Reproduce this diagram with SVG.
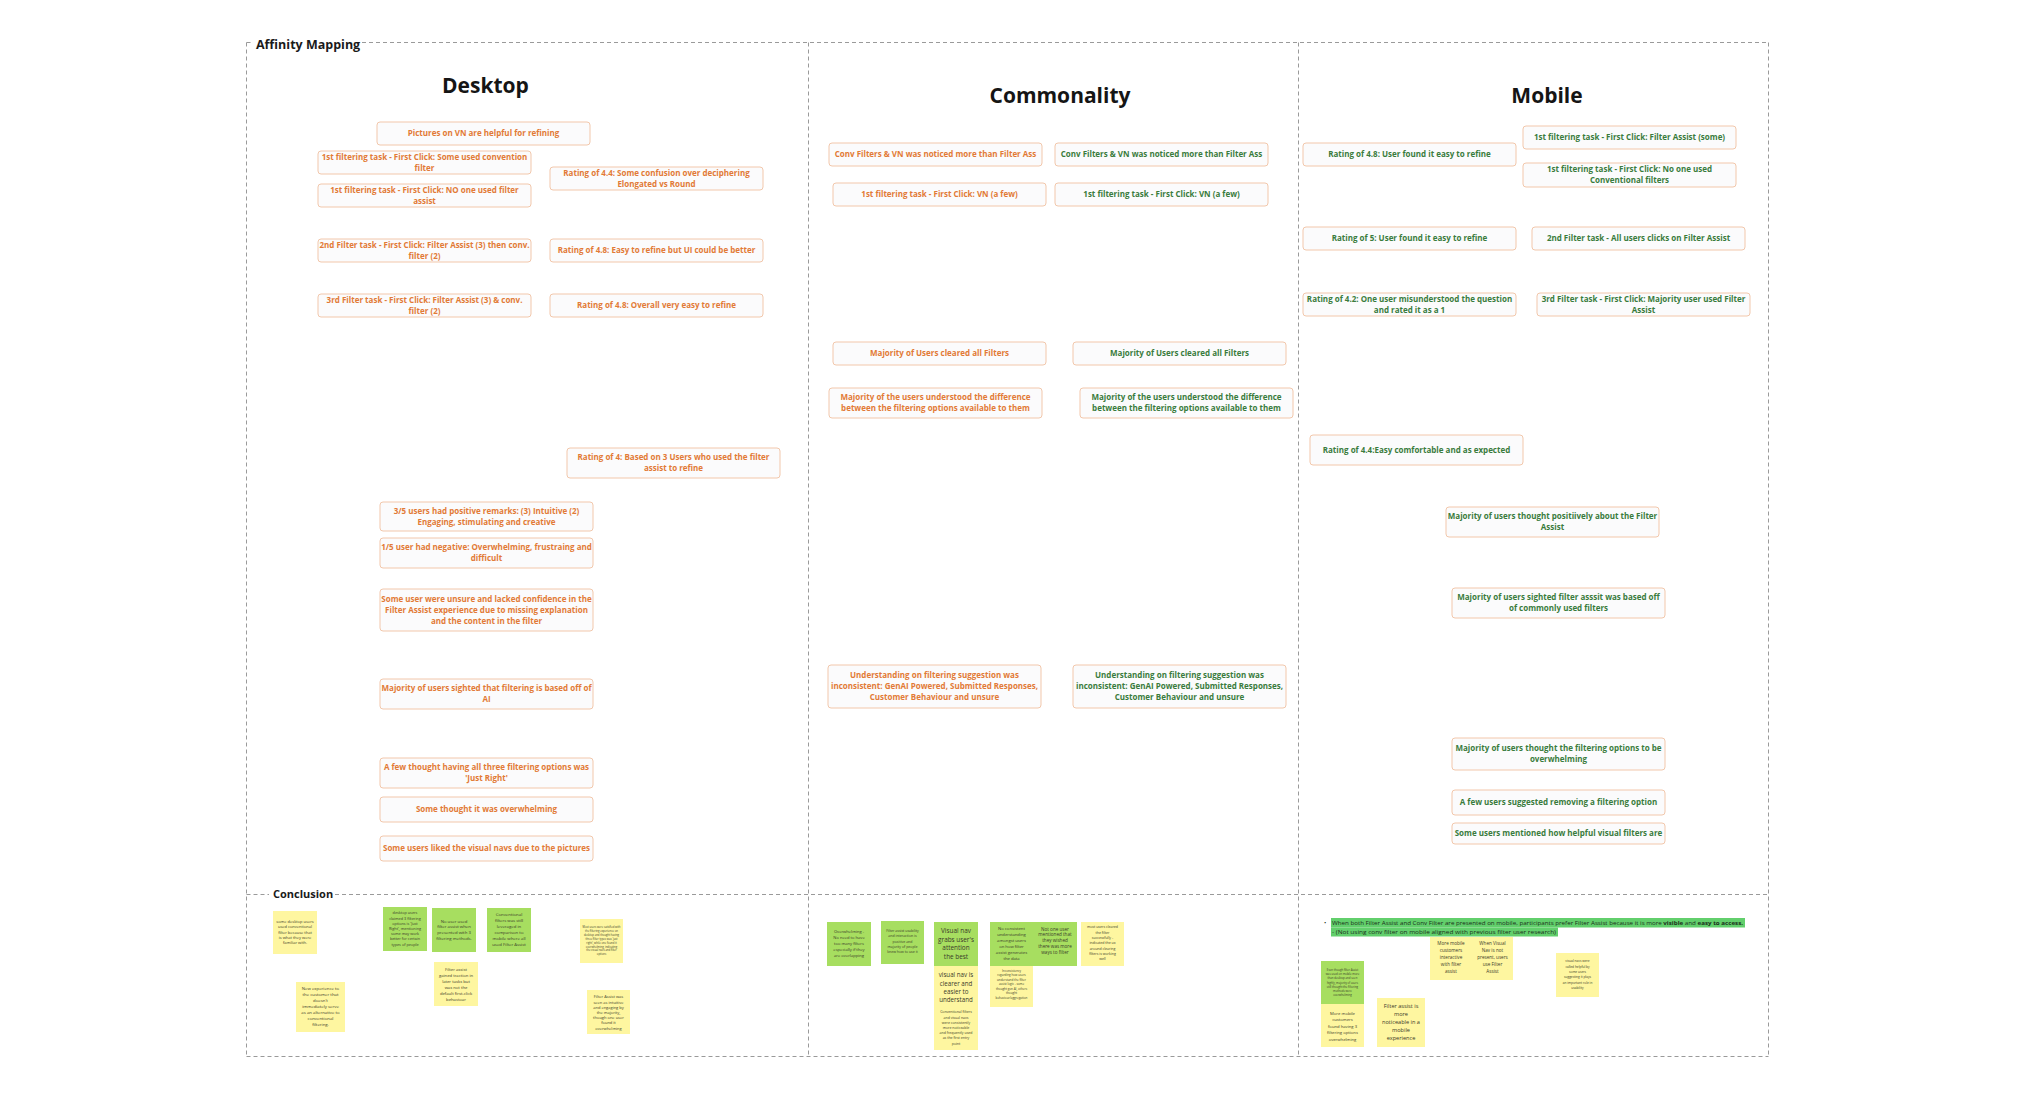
<svg xmlns="http://www.w3.org/2000/svg" width="2017" height="1098" viewBox="0 0 2017 1098">
<style>
.bg{fill:#ffffff}
.dash{stroke:#9a9a9a;stroke-width:1;stroke-dasharray:4 3;fill:none}
.bx{fill:#fbfbfc;stroke:#f2c7ab;stroke-width:1}
.to,.tg{font-family:"Open Sans","Noto Sans",sans-serif;font-weight:700;font-size:8px;text-anchor:middle}
.to{fill:#e27a36}
.tg{fill:#3a7b3c}
.h{font-family:"Open Sans","Noto Sans",sans-serif;font-weight:700;font-size:21px;fill:#151515;text-anchor:middle}
.lbl{font-family:"Open Sans","Noto Sans",sans-serif;font-weight:700;fill:#1a1a1a}
.sy{fill:#fef6a0}
.sg{fill:#a7de60}
.st{font-family:"Open Sans","Noto Sans",sans-serif;fill:#3a3a2a;text-anchor:middle}
.hl{fill:#62cf6c}
.bt{font-family:"Open Sans","Noto Sans",sans-serif;font-size:6px;fill:#1b2e1b}
</style>
<rect class="bg" x="0" y="0" width="2017" height="1098"/>

<g id="frame">
  <line class="dash" x1="246.5" y1="42.5" x2="251" y2="42.5"/>
  <line class="dash" x1="362" y1="42.5" x2="1768.5" y2="42.5"/>
  <line class="dash" x1="246.5" y1="42.5" x2="246.5" y2="1056.5"/>
  <line class="dash" x1="1768.5" y1="42.5" x2="1768.5" y2="1056.5"/>
  <line class="dash" x1="246.5" y1="1056.5" x2="1768.5" y2="1056.5"/>
  <line class="dash" x1="808.5" y1="42.5" x2="808.5" y2="1056.5"/>
  <line class="dash" x1="1298.5" y1="42.5" x2="1298.5" y2="1056.5"/>
  <line class="dash" x1="246.5" y1="894.5" x2="269" y2="894.5"/>
  <line class="dash" x1="335" y1="894.5" x2="1768.5" y2="894.5"/>
  <text class="lbl" x="256" y="48.5" font-size="12.5">Affinity Mapping</text>
  <text class="lbl" x="273" y="897.5" font-size="11">Conclusion</text>
</g>

<g id="headers">
  <text class="h" x="485.5" y="93">Desktop</text>
  <text class="h" x="1060" y="103">Commonality</text>
  <text class="h" x="1547" y="103">Mobile</text>
</g>

<!-- Desktop -->
<g id="d1"><rect class="bx" x="377" y="122" width="213" height="23" rx="3"/><text class="to" x="483.5" y="136.4">Pictures on VN are helpful for refining</text></g>
<g id="d2"><rect class="bx" x="318" y="151" width="213" height="23" rx="3"/><text class="to" x="424.5" y="159.9">1st filtering task - First Click: Some used convention</text><text class="to" x="424.5" y="170.9">filter</text></g>
<g id="d3"><rect class="bx" x="318" y="184" width="213" height="23" rx="3"/><text class="to" x="424.5" y="192.9">1st filtering task - First Click: NO one used filter</text><text class="to" x="424.5" y="203.9">assist</text></g>
<g id="d4"><rect class="bx" x="550" y="167" width="213" height="23" rx="3"/><text class="to" x="656.5" y="175.9">Rating of 4.4: Some confusion over deciphering</text><text class="to" x="656.5" y="186.9">Elongated vs Round</text></g>
<g id="d5"><rect class="bx" x="318" y="239" width="213" height="23" rx="3"/><text class="to" x="424.5" y="247.9">2nd Filter task - First Click: Filter Assist (3) then conv.</text><text class="to" x="424.5" y="258.9">filter (2)</text></g>
<g id="d6"><rect class="bx" x="550" y="239" width="213" height="23" rx="3"/><text class="to" x="656.5" y="253.4">Rating of 4.8: Easy to refine but UI could be better</text></g>
<g id="d7"><rect class="bx" x="318" y="294" width="213" height="23" rx="3"/><text class="to" x="424.5" y="302.9">3rd Filter task - First Click: Filter Assist (3) &amp; conv.</text><text class="to" x="424.5" y="313.9">filter (2)</text></g>
<g id="d8"><rect class="bx" x="550" y="294" width="213" height="23" rx="3"/><text class="to" x="656.5" y="308.4">Rating of 4.8: Overall very easy to refine</text></g>
<g id="d9"><rect class="bx" x="567" y="448" width="213" height="30" rx="3"/><text class="to" x="673.5" y="460.4">Rating of 4: Based on 3 Users who used the filter</text><text class="to" x="673.5" y="471.4">assist to refine</text></g>
<g id="d10"><rect class="bx" x="380" y="502" width="213" height="29" rx="3"/><text class="to" x="486.5" y="513.9">3/5 users had positive remarks: (3) Intuitive (2)</text><text class="to" x="486.5" y="524.9">Engaging, stimulating and creative</text></g>
<g id="d11"><rect class="bx" x="380" y="538" width="213" height="30" rx="3"/><text class="to" x="486.5" y="550.4">1/5 user had negative: Overwhelming, frustraing and</text><text class="to" x="486.5" y="561.4">difficult</text></g>
<g id="d12"><rect class="bx" x="380" y="589" width="213" height="42" rx="3"/><text class="to" x="486.5" y="601.9">Some user were unsure and lacked confidence in the</text><text class="to" x="486.5" y="612.9">Filter Assist experience due to missing explanation</text><text class="to" x="486.5" y="623.9">and the content in the filter</text></g>
<g id="d13"><rect class="bx" x="380" y="679" width="213" height="30" rx="3"/><text class="to" x="486.5" y="691.4">Majority of users sighted that filtering is based off of</text><text class="to" x="486.5" y="702.4">AI</text></g>
<g id="d14"><rect class="bx" x="380" y="758" width="213" height="30" rx="3"/><text class="to" x="486.5" y="770.4">A few thought having all three filtering options was</text><text class="to" x="486.5" y="781.4">'Just Right'</text></g>
<g id="d15"><rect class="bx" x="380" y="797" width="213" height="25" rx="3"/><text class="to" x="486.5" y="812.4">Some thought it was overwhelming</text></g>
<g id="d16"><rect class="bx" x="380" y="836" width="213" height="25" rx="3"/><text class="to" x="486.5" y="851.4">Some users liked the visual navs due to the pictures</text></g>

<!-- Commonality -->
<g id="c1o"><rect class="bx" x="829" y="143" width="213" height="23" rx="3"/><text class="to" x="935.5" y="157.4">Conv Filters &amp; VN was noticed more than Filter Ass</text></g>
<g id="c1g"><rect class="bx" x="1055" y="143" width="213" height="23" rx="3"/><text class="tg" x="1161.5" y="157.4">Conv Filters &amp; VN was noticed more than Filter Ass</text></g>
<g id="c2o"><rect class="bx" x="833" y="183" width="213" height="23" rx="3"/><text class="to" x="939.5" y="197.4">1st filtering task - First Click: VN (a few)</text></g>
<g id="c2g"><rect class="bx" x="1055" y="183" width="213" height="23" rx="3"/><text class="tg" x="1161.5" y="197.4">1st filtering task - First Click: VN (a few)</text></g>
<g id="c3o"><rect class="bx" x="833" y="342" width="213" height="23" rx="3"/><text class="to" x="939.5" y="356.4">Majority of Users cleared all Filters</text></g>
<g id="c3g"><rect class="bx" x="1073" y="342" width="213" height="23" rx="3"/><text class="tg" x="1179.5" y="356.4">Majority of Users cleared all Filters</text></g>
<g id="c4o"><rect class="bx" x="829" y="388" width="213" height="30" rx="3"/><text class="to" x="935.5" y="400.4">Majority of the users understood the difference</text><text class="to" x="935.5" y="411.4">between the filtering options available to them</text></g>
<g id="c4g"><rect class="bx" x="1080" y="388" width="213" height="30" rx="3"/><text class="tg" x="1186.5" y="400.4">Majority of the users understood the difference</text><text class="tg" x="1186.5" y="411.4">between the filtering options available to them</text></g>
<g id="c5o"><rect class="bx" x="828" y="665" width="213" height="43" rx="3"/><text class="to" x="934.5" y="678.4">Understanding on filtering suggestion was</text><text class="to" x="934.5" y="689.4">inconsistent: GenAI Powered, Submitted Responses,</text><text class="to" x="934.5" y="700.4">Customer Behaviour and unsure</text></g>
<g id="c5g"><rect class="bx" x="1073" y="665" width="213" height="43" rx="3"/><text class="tg" x="1179.5" y="678.4">Understanding on filtering suggestion was</text><text class="tg" x="1179.5" y="689.4">inconsistent: GenAI Powered, Submitted Responses,</text><text class="tg" x="1179.5" y="700.4">Customer Behaviour and unsure</text></g>

<!-- Mobile -->
<g id="m1"><rect class="bx" x="1523" y="126" width="213" height="23" rx="3"/><text class="tg" x="1629.5" y="140.4">1st filtering task - First Click: Filter Assist (some)</text></g>
<g id="m2"><rect class="bx" x="1303" y="143" width="213" height="23" rx="3"/><text class="tg" x="1409.5" y="157.4">Rating of 4.8: User found it easy to refine</text></g>
<g id="m3"><rect class="bx" x="1523" y="163" width="213" height="24" rx="3"/><text class="tg" x="1629.5" y="172.4">1st filtering task - First Click: No one used</text><text class="tg" x="1629.5" y="183.4">Conventional filters</text></g>
<g id="m4"><rect class="bx" x="1303" y="227" width="213" height="23" rx="3"/><text class="tg" x="1409.5" y="241.4">Rating of 5: User found it easy to refine</text></g>
<g id="m5"><rect class="bx" x="1532" y="227" width="213" height="23" rx="3"/><text class="tg" x="1638.5" y="241.4">2nd Filter task - All users clicks on Filter Assist</text></g>
<g id="m6"><rect class="bx" x="1303" y="293" width="213" height="23" rx="3"/><text class="tg" x="1409.5" y="301.9">Rating of 4.2: One user misunderstood the question</text><text class="tg" x="1409.5" y="312.9">and rated it as a 1</text></g>
<g id="m7"><rect class="bx" x="1537" y="293" width="213" height="23" rx="3"/><text class="tg" x="1643.5" y="301.9">3rd Filter task - First Click: Majority user used Filter</text><text class="tg" x="1643.5" y="312.9">Assist</text></g>
<g id="m8"><rect class="bx" x="1310" y="435" width="213" height="30" rx="3"/><text class="tg" x="1416.5" y="452.9">Rating of 4.4:Easy comfortable and as expected</text></g>
<g id="m9"><rect class="bx" x="1446" y="507" width="213" height="30" rx="3"/><text class="tg" x="1552.5" y="519.4">Majority of users thought positiively about the Filter</text><text class="tg" x="1552.5" y="530.4">Assist</text></g>
<g id="m10"><rect class="bx" x="1452" y="588" width="213" height="30" rx="3"/><text class="tg" x="1558.5" y="600.4">Majority of users sighted filter asssit was based off</text><text class="tg" x="1558.5" y="611.4">of commonly used filters</text></g>
<g id="m11"><rect class="bx" x="1452" y="738" width="213" height="32" rx="3"/><text class="tg" x="1558.5" y="751.4">Majority of users thought the filtering options to be</text><text class="tg" x="1558.5" y="762.4">overwhelming</text></g>
<g id="m12"><rect class="bx" x="1452" y="790" width="213" height="25" rx="3"/><text class="tg" x="1558.5" y="805.4">A few users suggested removing a filtering option</text></g>
<g id="m13"><rect class="bx" x="1452" y="823" width="213" height="21" rx="3"/><text class="tg" x="1558.5" y="836.4">Some users mentioned how helpful visual filters are</text></g>

<!-- Conclusion stickies: Desktop -->
<g id="s1"><rect class="sy" x="273" y="911" width="44" height="43"/><text class="st" font-size="4"><tspan x="295" y="923">some desktop users</tspan><tspan x="295" dy="5.3">used conventional</tspan><tspan x="295" dy="5.3">filter because that</tspan><tspan x="295" dy="5.3">is what they were</tspan><tspan x="295" dy="5.3">familiar with.</tspan></text></g>
<g id="s2"><rect class="sy" x="296" y="982" width="49" height="50"/><text class="st" font-size="4.3"><tspan x="320.5" y="989.6">New experience to</tspan><tspan x="320.5" dy="6.1">the customer that</tspan><tspan x="320.5" dy="6.1">doesn't</tspan><tspan x="320.5" dy="6.1">immediately serve</tspan><tspan x="320.5" dy="6.1">as an alternative to</tspan><tspan x="320.5" dy="6.1">conventional</tspan><tspan x="320.5" dy="6.1">filtering.</tspan></text></g>
<g id="g1"><rect class="sg" x="383" y="907" width="44" height="44"/><text class="st" font-size="3.8"><tspan x="405" y="914.4">desktop users</tspan><tspan x="405" dy="5.2">claimed 3 filtering</tspan><tspan x="405" dy="5.2">options is 'Just</tspan><tspan x="405" dy="5.2">Right', mentioning</tspan><tspan x="405" dy="5.2">some may work</tspan><tspan x="405" dy="5.2">better for certain</tspan><tspan x="405" dy="5.2">types of people</tspan></text></g>
<g id="g2"><rect class="sg" x="432" y="908" width="44" height="44"/><text class="st" font-size="4.3"><tspan x="454" y="922.5">No user used</tspan><tspan x="454" dy="5.7">filter assist when</tspan><tspan x="454" dy="5.7">presented with 3</tspan><tspan x="454" dy="5.7">filtering methods.</tspan></text></g>
<g id="g3"><rect class="sg" x="487" y="908" width="44" height="44"/><text class="st" font-size="4.3"><tspan x="509" y="915.5">Conventional</tspan><tspan x="509" dy="6">filters was still</tspan><tspan x="509" dy="6">leveraged in</tspan><tspan x="509" dy="6">comparison to</tspan><tspan x="509" dy="6">mobile where all</tspan><tspan x="509" dy="6">used Filter Assist</tspan></text></g>
<g id="s3"><rect class="sy" x="434" y="962" width="44" height="44"/><text class="st" font-size="4.2"><tspan x="456" y="970.5">Filter assist</tspan><tspan x="456" dy="6">gained traction in</tspan><tspan x="456" dy="6">later tasks but</tspan><tspan x="456" dy="6">was not the</tspan><tspan x="456" dy="6">default first-click</tspan><tspan x="456" dy="6">behaviour</tspan></text></g>
<g id="s4"><rect class="sy" x="580" y="919" width="43" height="44"/><text class="st" font-size="2.7"><tspan x="601.5" y="928">Most users were satisfied with</tspan><tspan x="601.5" dy="3.9">the filtering experience on</tspan><tspan x="601.5" dy="3.9">desktop and thought having</tspan><tspan x="601.5" dy="3.9">three filter types was 'just</tspan><tspan x="601.5" dy="3.9">right', while one found it</tspan><tspan x="601.5" dy="3.9">overwhelming, indicating</tspan><tspan x="601.5" dy="3.9">the visual navs and filter</tspan><tspan x="601.5" dy="3.9">options</tspan></text></g>
<g id="s5"><rect class="sy" x="587" y="990" width="43" height="44"/><text class="st" font-size="4"><tspan x="608.5" y="998.4">Filter Assist was</tspan><tspan x="608.5" dy="5.2">seen as intuitive</tspan><tspan x="608.5" dy="5.2">and engaging by</tspan><tspan x="608.5" dy="5.2">the majority,</tspan><tspan x="608.5" dy="5.2">though one user</tspan><tspan x="608.5" dy="5.2">found it</tspan><tspan x="608.5" dy="5.2">overwhelming</tspan></text></g>

<!-- Conclusion stickies: Commonality -->
<g id="cg1"><rect class="sg" x="827" y="922" width="44" height="44"/><text class="st" font-size="4.1"><tspan x="849" y="932.5">Overwhelming -</tspan><tspan x="849" dy="6">No need to have</tspan><tspan x="849" dy="6">too many filters</tspan><tspan x="849" dy="6">especially if they</tspan><tspan x="849" dy="6">are overlapping</tspan></text></g>
<g id="cg2"><rect class="sg" x="881" y="921" width="43" height="43"/><text class="st" font-size="3.5"><tspan x="902.5" y="932.2">Filter assist usability</tspan><tspan x="902.5" dy="5.2">and interaction is</tspan><tspan x="902.5" dy="5.2">positive and</tspan><tspan x="902.5" dy="5.2">majority of people</tspan><tspan x="902.5" dy="5.2">knew how to use it</tspan></text></g>
<g id="cg3"><rect class="sg" x="934" y="922" width="44" height="44"/><text class="st" font-size="6.4"><tspan x="956" y="933.3">Visual nav</tspan><tspan x="956" dy="8.5">grabs user's</tspan><tspan x="956" dy="8.5">attention</tspan><tspan x="956" dy="8.5">the best</tspan></text></g>
<g id="cy1"><rect class="sy" x="934" y="966" width="44" height="42"/><text class="st" font-size="6.2"><tspan x="956" y="977.3">visual nav is</tspan><tspan x="956" dy="8.3">clearer and</tspan><tspan x="956" dy="8.3">easier to</tspan><tspan x="956" dy="8.3">understand</tspan></text></g>
<g id="cy2"><rect class="sy" x="934" y="1008" width="44" height="42"/><text class="st" font-size="3.5"><tspan x="956" y="1013.3">Conventional filters</tspan><tspan x="956" dy="5.2">and visual navs</tspan><tspan x="956" dy="5.2">were consistently</tspan><tspan x="956" dy="5.2">more noticeable</tspan><tspan x="956" dy="5.2">and frequently used</tspan><tspan x="956" dy="5.2">as the first entry</tspan><tspan x="956" dy="5.2">point</tspan></text></g>
<g id="cg4"><rect class="sg" x="990" y="922" width="43" height="44"/><text class="st" font-size="4.2"><tspan x="1011.5" y="929.5">No consistent</tspan><tspan x="1011.5" dy="6">understanding</tspan><tspan x="1011.5" dy="6">amongst users</tspan><tspan x="1011.5" dy="6">on how filter</tspan><tspan x="1011.5" dy="6">assist generates</tspan><tspan x="1011.5" dy="6">the data</tspan></text></g>
<g id="cy3"><rect class="sy" x="990" y="966" width="43" height="41"/><text class="st" font-size="3"><tspan x="1011.5" y="971.5">Inconsistency</tspan><tspan x="1011.5" dy="4.5">regarding how users</tspan><tspan x="1011.5" dy="4.5">understand the filter</tspan><tspan x="1011.5" dy="4.5">assist logic - some</tspan><tspan x="1011.5" dy="4.5">thought gen AI, others</tspan><tspan x="1011.5" dy="4.5">thought</tspan><tspan x="1011.5" dy="4.5">behaviour/aggregation</tspan></text></g>
<g id="cg5"><rect class="sg" x="1033" y="922" width="44" height="44"/><text class="st" font-size="4.6"><tspan x="1055" y="930.6">Not one user</tspan><tspan x="1055" dy="5.8">mentioned that</tspan><tspan x="1055" dy="5.8">they wished</tspan><tspan x="1055" dy="5.8">there was more</tspan><tspan x="1055" dy="5.8">ways to filter</tspan></text></g>
<g id="cy4"><rect class="sy" x="1081" y="922" width="43" height="44"/><text class="st" font-size="3.5"><tspan x="1102.5" y="928.3">most users cleared</tspan><tspan x="1102.5" dy="5.3">the filter</tspan><tspan x="1102.5" dy="5.3">successfully -</tspan><tspan x="1102.5" dy="5.3">indicated the ux</tspan><tspan x="1102.5" dy="5.3">around clearing</tspan><tspan x="1102.5" dy="5.3">filters is working</tspan><tspan x="1102.5" dy="5.3">well</tspan></text></g>

<!-- Conclusion: Mobile -->
<g id="mbullet">
  <rect class="hl" x="1331" y="918" width="414" height="9.5"/>
  <rect class="hl" x="1331" y="927.5" width="227" height="9"/>
  <text class="bt" x="1324" y="925">•</text>
  <text class="bt" x="1332" y="925" textLength="411" lengthAdjust="spacingAndGlyphs">When both Filter Assist and Conv Filter are presented on mobile, participants prefer Filter Assist because it is more <tspan font-weight="700">visible</tspan> and <tspan font-weight="700">easy to access.</tspan></text>
  <text class="bt" x="1332" y="934" textLength="224" lengthAdjust="spacingAndGlyphs">- (Not using conv filter on mobile aligned with previous filter user research)</text>
</g>
<g id="my1"><rect class="sy" x="1430" y="937" width="42" height="43"/><text class="st" font-size="4.6"><tspan x="1451" y="944.6">More mobile</tspan><tspan x="1451" dy="7">customers</tspan><tspan x="1451" dy="7">interactive</tspan><tspan x="1451" dy="7">with filter</tspan><tspan x="1451" dy="7">assist</tspan></text></g>
<g id="my2"><rect class="sy" x="1472" y="937" width="41" height="43"/><text class="st" font-size="4.6"><tspan x="1492.5" y="944.6">When Visual</tspan><tspan x="1492.5" dy="7">Nav is not</tspan><tspan x="1492.5" dy="7">present, users</tspan><tspan x="1492.5" dy="7">use Filter</tspan><tspan x="1492.5" dy="7">Assist</tspan></text></g>
<g id="my3"><rect class="sy" x="1556" y="953" width="43" height="44"/><text class="st" font-size="3.2"><tspan x="1577.5" y="962.1">visual navs were</tspan><tspan x="1577.5" dy="5.4">called helpful by</tspan><tspan x="1577.5" dy="5.4">some users</tspan><tspan x="1577.5" dy="5.4">suggesting it plays</tspan><tspan x="1577.5" dy="5.4">an important role in</tspan><tspan x="1577.5" dy="5.4">usability</tspan></text></g>
<g id="mg1"><rect class="sg" x="1321" y="961" width="43" height="43"/><text class="st" font-size="2.8"><tspan x="1342.5" y="971">Even though filter Assist</tspan><tspan x="1342.5" dy="4.2">was used on mobile more</tspan><tspan x="1342.5" dy="4.2">than desktop and seen</tspan><tspan x="1342.5" dy="4.2">highly, majority of users</tspan><tspan x="1342.5" dy="4.2">still thought the filtering</tspan><tspan x="1342.5" dy="4.2">methods were</tspan><tspan x="1342.5" dy="4.2">overwhelming</tspan></text></g>
<g id="my4"><rect class="sy" x="1321" y="1004" width="43" height="43"/><text class="st" font-size="4.2"><tspan x="1342.5" y="1014.5">More mobile</tspan><tspan x="1342.5" dy="6.5">customers</tspan><tspan x="1342.5" dy="6.5">found having 3</tspan><tspan x="1342.5" dy="6.5">filtering options</tspan><tspan x="1342.5" dy="6.5">overwhelming</tspan></text></g>
<g id="my5"><rect class="sy" x="1377" y="998" width="48" height="49"/><text class="st" font-size="5.6"><tspan x="1401" y="1008">Filter assist is</tspan><tspan x="1401" dy="8">more</tspan><tspan x="1401" dy="8">noticeable in a</tspan><tspan x="1401" dy="8">mobile</tspan><tspan x="1401" dy="8">experience</tspan></text></g>
</svg>
